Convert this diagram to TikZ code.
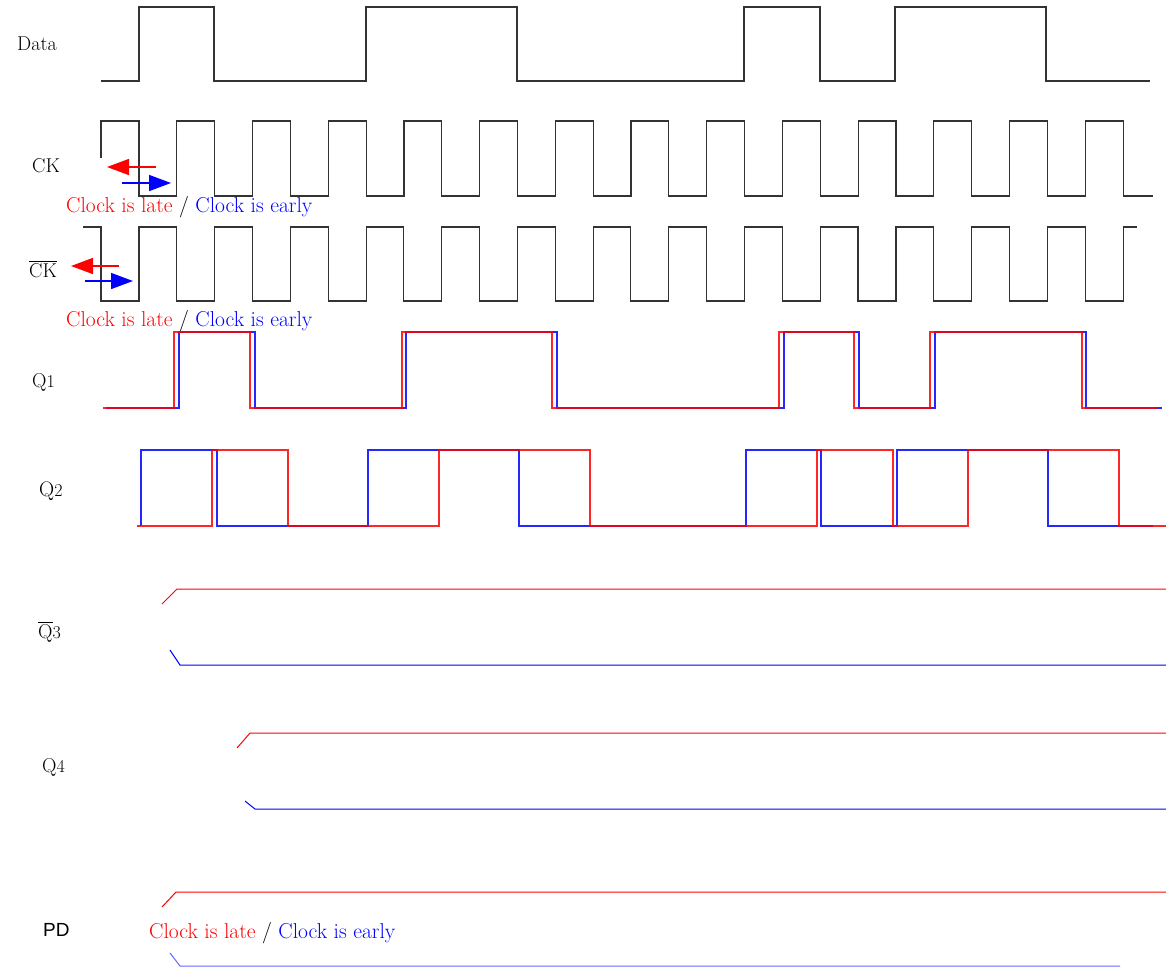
\documentclass[tikz,border=0pt]{standalone}
\usepackage{fontspec}
\newfontfamily\arialfont{Liberation Sans}
\usetikzlibrary{arrows.meta}
\newcommand{\lblfont}{\fontsize{20}{22}\selectfont}
\newcommand{\notefont}{\fontsize{21.5}{24}\selectfont}
\newcommand{\subd}[1]{{\fontsize{18}{20}\selectfont #1}}
\begin{document}
\begin{tikzpicture}[x=1pt,y=-1pt,
  wave/.style={line width=1.15pt, black!80, line join=miter},
  redw/.style={line width=1.1pt, red, line join=miter},
  bluew/.style={line width=1.1pt, blue, line join=miter},
  lbl/.style={anchor=base west, inner sep=0pt, font=\lblfont},
  note/.style={anchor=base west, inner sep=0pt, font=\notefont},
  arr/.style={line width=1.6pt, -{Triangle[length=22pt,width=16pt]}}]
\useasboundingbox (0,0) rectangle (1166,967);

% ---------- labels ----------
\node[lbl] (lData) at (17,50) {Data};
\node[lbl] (lCK) at (32,172) {CK};
\node[lbl] (lCKb) at (29,277) {$\overline{\mbox{\lblfont CK}}$};
\node[lbl] (lQ1) at (32,387) {Q\subd{1}};
\node[lbl] (lQ2) at (39,496) {\fontsize{21}{22}\selectfont Q\subd{2}};
\node[lbl] (lQ3) at (38,638) {$\overline{\mbox{\lblfont Q}}$\subd{3}};
\node[lbl] (lQ4) at (42,772) {Q\subd{4}};
\node[lbl,font=\arialfont\fontsize{19}{22}\selectfont] (lPD) at (43,936) {PD};

% ---------- Data ----------
\draw[wave] (101,81) -- (139,81) -- (139,7) -- (214,7) -- (214,81) -- (366,81) -- (366,7)
  -- (517,7) -- (517,81) -- (744,81) -- (744,7) -- (820,7) -- (820,81) -- (895,81)
  -- (895,7) -- (1046,7) -- (1046,81) -- (1150,81);

% ---------- CK ----------
\draw[wave] (101,158) -- (101,121)
  foreach \k in {0,...,12} { -- ({139+75.7*\k},121) -- ({139+75.7*\k},196)
     -- ({176.85+75.7*\k},196) -- ({176.85+75.7*\k},121) }
  -- (1123.1,121) -- (1123.1,196) -- (1153,196);

% ---------- CK bar ----------
\draw[wave] (83,227)
  foreach \k in {0,...,13} { -- ({101+75.7*\k},227) -- ({101+75.7*\k},301)
     -- ({139+75.7*\k},301) -- ({139+75.7*\k},227) }
  -- (1137,227);

% ---------- arrows ----------
\coordinate (a1s) at (156,167); \coordinate (a1e) at (107,167);
\coordinate (a2s) at (122,183); \coordinate (a2e) at (171,183);
\coordinate (a3s) at (119,266); \coordinate (a3e) at (71,266);
\coordinate (a4s) at (85,281);  \coordinate (a4e) at (133,281);
\draw[arr, red] (a1s) -- (a1e);
\draw[arr, blue] (a2s) -- (a2e);
\draw[arr, red] (a3s) -- (a3e);
\draw[arr, blue] (a4s) -- (a4e);

% ---------- notes ----------
\node[note] (n1) at (66,212) {\textcolor{red}{Clock is late} / \textcolor{blue}{Clock is early}};
\node[note] (n2) at (66,326) {\textcolor{red}{Clock is late} / \textcolor{blue}{Clock is early}};
\node[note] (n3) at (149,938) {\textcolor{red}{Clock is late} / \textcolor{blue}{Clock is early}};

% ---------- Q1 ----------
\draw[bluew, opacity=0.85] (106,408) -- (179,408) -- (179,332) -- (255,332) -- (255,408) -- (406,408)
  -- (406,332) -- (557,332) -- (557,408) -- (784,408) -- (784,332) -- (859,332) -- (859,408)
  -- (935,408) -- (935,332) -- (1086,332) -- (1086,408) -- (1162,408);
\draw[redw, opacity=0.85] (103,408) -- (174,408) -- (174,332) -- (250,332) -- (250,408) -- (402,408)
  -- (402,332) -- (552,332) -- (552,408) -- (779,408) -- (779,332) -- (854,332) -- (854,408)
  -- (930,408) -- (930,332) -- (1082,332) -- (1082,408) -- (1157,408);

% ---------- Q2 ----------
\draw[bluew, opacity=0.85] (141,526) -- (141,450) -- (217,450) -- (217,526) -- (368,526) -- (368,450)
  -- (519,450) -- (519,526) -- (746,526) -- (746,450) -- (821,450) -- (821,526) -- (897,526)
  -- (897,450) -- (1048,450) -- (1048,526) -- (1153,526);
\draw[redw, opacity=0.85] (137,526) -- (212,526) -- (212,450) -- (288,450) -- (288,526) -- (439,526)
  -- (439,450) -- (590,450) -- (590,526) -- (817,526) -- (817,450) -- (893,450) -- (893,526)
  -- (968,526) -- (968,450) -- (1119,450) -- (1119,526) -- (1166,526);

% ---------- Q3 bar ----------
\draw[redw, line width=1pt] (162,604) -- (177,589) -- (1166,589);
\draw[bluew, line width=1pt] (170,650) -- (180,665) -- (1166,665);

% ---------- Q4 ----------
\draw[redw, line width=1pt] (237,748) -- (250,733) -- (1166,733);
\draw[bluew, line width=1pt] (245,801) -- (255,809) -- (1166,809);

% ---------- PD ----------
\draw[redw, line width=1pt] (162,907) -- (176,892) -- (1166,892);
\draw[bluew, line width=1pt, blue!60] (170,953) -- (180,966) -- (1120,966);
\end{tikzpicture}
\end{document}
